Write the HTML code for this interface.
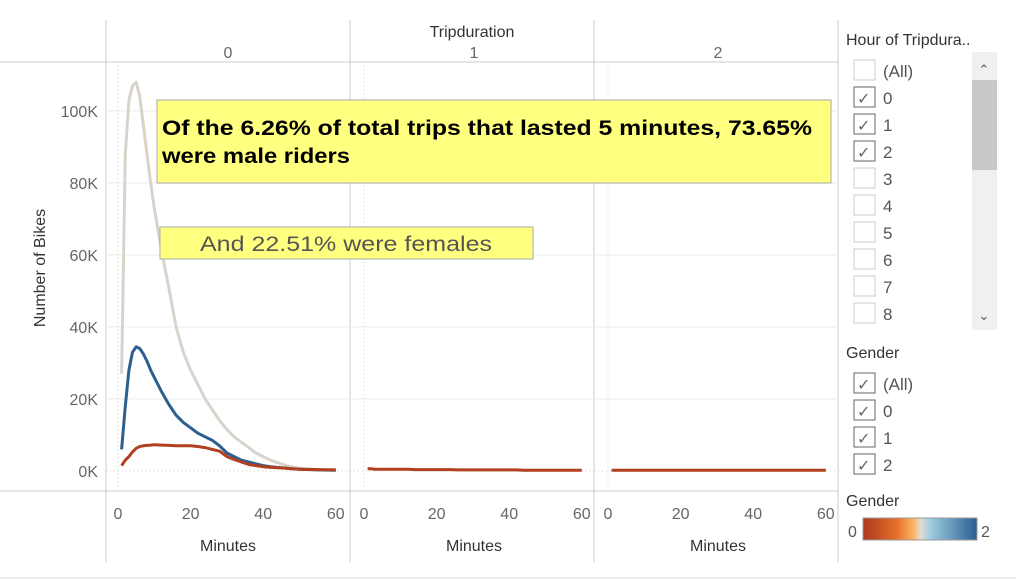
<!DOCTYPE html>
<html><head><meta charset="utf-8"><style>
body{margin:0;background:#fff;font-family:"Liberation Sans",sans-serif;}
svg text{font-family:"Liberation Sans",sans-serif;}
</style></head><body>
<svg id="c" width="1016" height="582" xmlns="http://www.w3.org/2000/svg">
<defs><linearGradient id="g" x1="0" x2="1"><stop offset="0" stop-color="#a9391e"/><stop offset="0.3" stop-color="#e8702a"/><stop offset="0.45" stop-color="#fdb868"/><stop offset="0.5" stop-color="#e3dcd0"/><stop offset="0.6" stop-color="#9ccae0"/><stop offset="1" stop-color="#2a5d8f"/></linearGradient></defs>
<rect x="0" y="0" width="1016" height="582" fill="#fff"/>
<text x="472" y="37" font-size="16" text-anchor="middle" fill="#333">Tripduration</text>
<text x="53" y="276" font-size="16" text-anchor="middle" fill="#333" transform="rotate(-90 45 276)">Number of Bikes</text>
<g id="grid"></g><g id="marks"></g>
<rect x="157" y="100" width="674" height="83" fill="#ffff80" stroke="#aaa"/>
<text x="162" y="135" font-size="21" font-weight="bold" fill="#000" textLength="650" lengthAdjust="spacingAndGlyphs">Of the 6.26% of total trips that lasted 5 minutes, 73.65%</text>
<text x="162" y="163" font-size="21" font-weight="bold" fill="#000" textLength="188" lengthAdjust="spacingAndGlyphs">were male riders</text>
<rect x="160" y="227" width="373" height="32" fill="#ffff80" stroke="#aaa"/>
<text x="346" y="251" font-size="21" text-anchor="middle" fill="#555" textLength="292" lengthAdjust="spacingAndGlyphs">And 22.51% were females</text>
<g>
<text x="846" y="45" font-size="16" fill="#333">Hour of Tripdura..</text>
<rect x="972" y="52" width="25" height="278" fill="#f0f0f0"/>
<rect x="972" y="80" width="25" height="90" fill="#c8c8c8"/>
<text x="984" y="74" font-size="13" text-anchor="middle" fill="#555">⌃</text>
<text x="984" y="320" font-size="13" text-anchor="middle" fill="#555">⌄</text>
<g id="hours"></g>
<text x="846" y="358" font-size="16" fill="#333">Gender</text>
<g id="genders"></g>
<text x="846" y="506" font-size="16" fill="#333">Gender</text>
<text x="848" y="537" font-size="16" fill="#555">0</text>
<rect x="863" y="518" width="114" height="22" fill="url(#g)" stroke="#999"/>
<text x="981" y="537" font-size="16" fill="#555">2</text>
</g>
</svg>
<script>
const minutes=[1,2,3,4,5,6,7,8,9,10,12,14,16,18,20,22,24,26,28,30,32,34,36,38,40,42,44,46,48,50,55,60];
const male=[27,88,103,107,108,104,96,88,80,73,61,51,40,33,28,24,20,17,14,11.5,9.5,8,6.5,5,4,3,2.3,1.6,1.1,0.8,0.4,0.2];
const female=[6,18,28,33,34.5,34,32.5,30.5,28,26,22,18.5,15.5,13.5,12,10.5,9.5,8.5,7,5,4,3,2.5,2,1.5,1.2,1,0.8,0.6,0.5,0.3,0.2];
const unknown=[1.5,3,4,5.3,6.3,6.8,7,7.1,7.2,7.3,7.2,7.1,7,7,7,6.8,6.5,6,5.5,4,3.2,2.5,1.8,1.5,1.2,1,0.9,0.8,0.6,0.5,0.4,0.3];
const flat1=[0.6,0.6,0.5,0.5,0.5,0.5,0.5,0.5,0.5,0.5,0.5,0.4,0.4,0.4,0.4,0.4,0.4,0.3,0.3,0.3,0.3,0.3,0.3,0.3,0.3,0.3,0.2,0.2,0.2,0.2,0.2,0.2];
const flat2=[0.2,0.2,0.2,0.2,0.2,0.2,0.2,0.2,0.2,0.2,0.2,0.2,0.2,0.2,0.2,0.2,0.2,0.2,0.2,0.2,0.2,0.2,0.2,0.2,0.2,0.2,0.2,0.2,0.2,0.2,0.2,0.2];
const yTicks=[0,20,40,60,80,100];
const xTicks=[0,20,40,60];
const panels=["0","1","2"];
const hours=["(All)","0","1","2","3","4","5","6","7","8"];
const hourChecked=[false,true,true,true,false,false,false,false,false,false];
const genders=["(All)","0","1","2"];
const NS="http://www.w3.org/2000/svg";
function el(t,a,p){const e=document.createElementNS(NS,t);for(const k in a)e.setAttribute(k,a[k]);p.appendChild(e);return e;}
const y=v=>471-v*3.6;
const px0=[118,364,608];
const x=(p,m)=>px0[p]+m*3.63;
const grid=document.getElementById('grid'),marks=document.getElementById('marks');
el('line',{x1:0,y1:62,x2:838,y2:62,stroke:'#ccc'},grid);
el('line',{x1:0,y1:491,x2:838,y2:491,stroke:'#ccc'},grid);
[106,350,594,838].forEach(xx=>el('line',{x1:xx,y1:20,x2:xx,y2:562,stroke:'#ccc'},grid));
el('line',{x1:0,y1:578,x2:1016,y2:578,stroke:'#ddd'},grid);
yTicks.forEach(t=>{
  if(t>0) el('line',{x1:106,y1:y(t),x2:838,y2:y(t),stroke:'#eee'},grid);
  const tx=el('text',{x:98,y:y(t)+6,'font-size':16,'text-anchor':'end',fill:'#666'},grid);tx.textContent=t+'K';
  
  
});
el('line',{x1:106,y1:471,x2:838,y2:471,stroke:'#ccc','stroke-dasharray':'1,3'},grid);
panels.forEach((p,i)=>{
  const h=el('text',{x:px0[i]+110,y:58,'font-size':16,'text-anchor':'middle',fill:'#666'},grid);h.textContent=p;
  
  
  el('line',{x1:px0[i],y1:62,x2:px0[i],y2:491,stroke:'#ccc','stroke-dasharray':'1,3'},grid);
  xTicks.forEach(t=>{const tx=el('text',{x:x(i,t),y:519,'font-size':16,'text-anchor':'middle',fill:'#666'},grid);tx.textContent=t;
    
    });
  const m=el('text',{x:px0[i]+110,y:551,'font-size':16,'text-anchor':'middle',fill:'#333'},grid);m.textContent='Minutes';
  
  
});
function line(p,vals,col,name){
  const d=vals.map((v,i)=>(i?'L':'M')+x(p,minutes[i]).toFixed(1)+','+y(v).toFixed(1)).join('');
  const l=el('path',{d:d,fill:'none',stroke:col,'stroke-width':3,'stroke-linejoin':'round'},marks);
  
  
}
line(0,male,'#d8d4cc','line-gender-1');
line(0,female,'#2d5f8e','line-gender-2');
line(0,unknown,'#b0401f','line-gender-0');
line(1,flat1,'#b0401f','line-panel1-gender-0');
line(2,flat2,'#b0401f','line-panel2-gender-0');
function box(g,yy,checked,label,i){
  const r=el('rect',{x:854,y:yy-15,width:21,height:20,fill:'#fff',stroke:checked?'#666':'#ccc'},g);
  
  
  if(checked){const c=el('text',{x:857,y:yy+2,'font-size':16,fill:'#666'},g);c.textContent='✓';}
  const t=el('text',{x:883,y:yy+2,'font-size':17,fill:'#555'},g);t.textContent=label;
}
const hg=document.getElementById('hours');
hours.forEach((h,i)=>box(hg,75+i*27,hourChecked[i],h,i));
const gg=document.getElementById('genders');
genders.forEach((h,i)=>box(gg,388+i*27,true,h,i));
</script>
</body></html>
